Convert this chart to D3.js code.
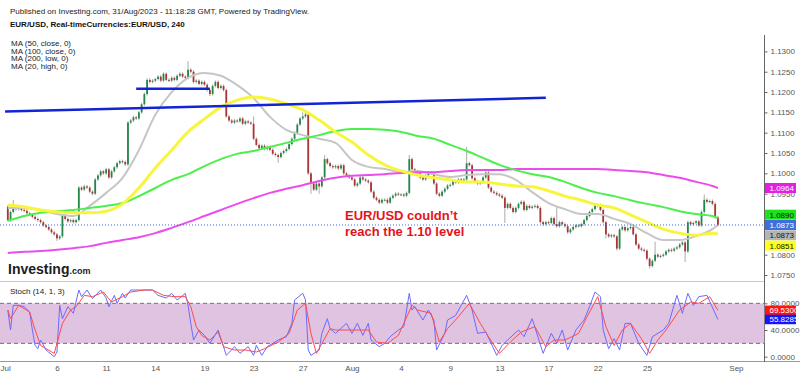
<!DOCTYPE html>
<html>
<head>
    <meta charset="utf-8">
    <script src="https://d3js.org/d3.v7.min.js"></script>
    <style>
        body { margin: 0; background: #fff; }
        text { font-family: "Liberation Sans", Arial, sans-serif; }
    </style>
</head>
<body>
    <script>
        // 4h candles, Jul 3 - Aug 31 2023, one close per bar (open = previous close)
        var firstOpen = 1.0918;
        var closes = [
            1.0885, 1.0905, 1.0918, 1.0912, 1.0915, 1.0910,
            1.0908, 1.0902, 1.0898, 1.0893, 1.0888, 1.0885,
            1.0880, 1.0872, 1.0868, 1.0862, 1.0855, 1.0850,
            1.0840, 1.0845, 1.0895, 1.0888, 1.0882, 1.0885,
            1.0880, 1.0885, 1.0965, 1.0960, 1.0968, 1.0965,
            1.0955, 1.0950, 1.0985, 1.0995, 1.1005, 1.1000,
            1.1010, 1.0990, 1.1005, 1.1015, 1.1025, 1.1030,
            1.1028, 1.1022, 1.1125, 1.1130, 1.1138, 1.1135,
            1.1150, 1.1170, 1.1195, 1.1230, 1.1225, 1.1228,
            1.1232, 1.1238, 1.1228, 1.1245, 1.1230, 1.1228,
            1.1235, 1.1230, 1.1240, 1.1245, 1.1238, 1.1235,
            1.1255, 1.1250, 1.1225, 1.1228, 1.1220, 1.1225,
            1.1218, 1.1205, 1.1195, 1.1215, 1.1225, 1.1210,
            1.1215, 1.1205, 1.1140, 1.1130, 1.1125, 1.1130,
            1.1128, 1.1135, 1.1122, 1.1128, 1.1125, 1.1122,
            1.1085, 1.1070, 1.1062, 1.1068, 1.1060, 1.1065,
            1.1058, 1.1048, 1.1045, 1.1040, 1.1050, 1.1055,
            1.1060, 1.1072, 1.1085, 1.1100, 1.1120, 1.1135,
            1.1140, 1.1145, 1.1000, 1.0975, 1.0960, 1.0975,
            1.0968, 1.0990, 1.1035, 1.1025, 1.1018, 1.1015,
            1.1018, 1.1012, 1.1020, 1.1000, 1.0995, 1.0990,
            1.0985, 1.0970, 1.0975, 1.0990, 1.0985, 1.0982,
            1.0978, 1.0955, 1.0940, 1.0935, 1.0928, 1.0935,
            1.0935, 1.0928, 1.0940, 1.0945, 1.0950, 1.0948,
            1.0948, 1.0945, 1.0952, 1.1035, 1.1010, 1.1005,
            1.1000, 1.0990, 1.0985, 1.0995, 1.1002, 1.1000,
            1.0975, 1.0950, 1.0945, 1.0955, 1.0962, 1.0970,
            1.0972, 1.0980, 1.0978, 1.0985, 1.0982, 1.0985,
            1.1025, 1.1020, 1.0988, 1.0980, 1.0975, 1.0978,
            1.0990, 1.1002, 1.0965, 1.0955, 1.0952, 1.0948,
            1.0945, 1.0940, 1.0915, 1.0925, 1.0915, 1.0905,
            1.0915, 1.0925, 1.0930, 1.0910, 1.0920, 1.0915,
            1.0918, 1.0920, 1.0915, 1.0880, 1.0875, 1.0880,
            1.0878, 1.0890, 1.0875, 1.0870, 1.0880, 1.0875,
            1.0870, 1.0855, 1.0862, 1.0868, 1.0872, 1.0870,
            1.0875, 1.0885, 1.0895, 1.0905, 1.0912, 1.0920,
            1.0922, 1.0910, 1.0880, 1.0850, 1.0845, 1.0848,
            1.0845, 1.0815, 1.0862, 1.0868, 1.0860, 1.0865,
            1.0868, 1.0850, 1.0825, 1.0815, 1.0812, 1.0810,
            1.0790, 1.0772, 1.0785, 1.0800, 1.0795, 1.0797,
            1.0800, 1.0808, 1.0812, 1.0810, 1.0815, 1.0818,
            1.0825, 1.0830, 1.0808, 1.0880, 1.0875, 1.0878,
            1.0882, 1.0872, 1.0905, 1.0935, 1.0930, 1.0932,
            1.0925, 1.0892, 1.0873
        ];
        // long shadows: [bar, high, low]
        var wicks = [
            [2, 1.0935, null], [18, null, 1.0834], [66, 1.1276, null], [74, null, 1.1190],
            [90, 1.1140, null], [99, null, 1.1026], [108, 1.1150, null], [111, null, 1.0950],
            [114, null, 1.0950], [116, 1.1045, null], [147, 1.1045, null], [168, 1.1065, null],
            [182, null, 1.0878], [201, 1.0920, null], [219, null, 1.0840], [223, null, 1.0810],
            [235, null, 1.0766], [237, 1.0832, null], [248, null, 1.0782], [255, 1.0948, null]
        ];

        // moving averages read at the start of each day, last value at the final bar
        var ma20High = [1.0915, 1.0915, 1.0910, 1.0900, 1.0895, 1.0920, 1.0952, 1.0989, 1.1057, 1.1144,
            1.1200, 1.1235, 1.1247, 1.1240, 1.1217, 1.1185, 1.1139, 1.1107, 1.1094, 1.1085,
            1.1075, 1.1033, 1.1016, 1.1011, 1.1003, 1.1006, 1.0998, 1.0991, 1.0996, 1.0998,
            1.0998, 1.0984, 1.0954, 1.0927, 1.0912, 1.0900, 1.0900, 1.0888, 1.0875, 1.0853,
            1.0836, 1.0836, 1.0846, 1.0863, 1.0873];
        var ma50Close = [1.0922, 1.0917, 1.0910, 1.0905, 1.0903, 1.0903, 1.0907, 1.0925, 1.0964, 1.1013,
            1.1057, 1.1102, 1.1134, 1.1163, 1.1180, 1.1188, 1.1183, 1.1171, 1.1156, 1.1131,
            1.1102, 1.1077, 1.1045, 1.1021, 1.1006, 1.0996, 1.0989, 1.0984, 1.0979, 1.0979,
            1.0974, 1.0969, 1.0967, 1.0957, 1.0944, 1.0934, 1.0922, 1.0915, 1.0898, 1.0880,
            1.0863, 1.0853, 1.0848, 1.0853, 1.0851];
        var ma100Close = [1.0883, 1.0895, 1.0903, 1.0907, 1.0910, 1.0915, 1.0920, 1.0927, 1.0944, 1.0964,
            1.0984, 1.0998, 1.1018, 1.1035, 1.1048, 1.1055, 1.1065, 1.1075, 1.1085, 1.1094,
            1.1104, 1.1109, 1.1109, 1.1107, 1.1102, 1.1092, 1.1085, 1.1070, 1.1055, 1.1038,
            1.1021, 1.1008, 1.0998, 1.0991, 1.0979, 1.0964, 1.0952, 1.0944, 1.0934, 1.0925,
            1.0917, 1.0907, 1.0900, 1.0895, 1.0890];
        var ma200Low = [1.0804, 1.0807, 1.0809, 1.0812, 1.0816, 1.0821, 1.0829, 1.0836, 1.0843, 1.0853,
            1.0866, 1.0880, 1.0895, 1.0910, 1.0925, 1.0939, 1.0952, 1.0962, 1.0971, 1.0981,
            1.0989, 1.0994, 1.0996, 1.0998, 1.1001, 1.1003, 1.1003, 1.1006, 1.1008, 1.1008,
            1.1008, 1.1011, 1.1011, 1.1011, 1.1011, 1.1011, 1.1011, 1.1008, 1.1006, 1.1003,
            1.0996, 1.0989, 1.0979, 1.0969, 1.0964];
        var maAt = d3.range(44).map(function (d) { return d * 6; }).concat([260]);

        // Stoch (14, 1, 3): %K (blue) and %D (red), points at bar index
        var stochKAt = [0, 1, 2, 4, 6, 8, 9, 10, 11, 12, 14, 17, 18, 19, 20, 22, 24, 26, 27, 29, 31, 34, 36, 37, 39, 40, 42, 43, 45, 53,
            55, 58, 60, 62, 65, 66, 67, 68, 70, 72, 74, 77, 79, 80, 83, 85, 88, 90, 91, 93, 95, 99, 102, 104, 105, 108, 109, 110, 111, 114,
            115, 117, 118, 120, 124, 126, 128, 130, 132, 133, 136, 138, 140, 143, 145, 147, 148, 149, 152, 154, 156, 157, 160, 161, 164, 168, 170, 172, 175, 177,
            179, 181, 183, 187, 189, 192, 196, 199, 201, 203, 205, 208, 211, 213, 215, 217, 218, 220, 222, 224, 226, 228, 231, 234, 236, 240, 242, 245, 247, 249,
            251, 253, 256, 260];
        var stochK = [70, 40, 77, 77, 75, 67, 40, 17, 12, 25, 10, 0, 7, 77, 57, 75, 65, 100, 90, 100, 87, 100, 88, 75, 92, 80, 95, 88, 100, 100,
            92, 88, 95, 85, 95, 77, 50, 25, 40, 32, 20, 40, 15, 2, 15, 5, 15, 2, 17, 2, 15, 25, 30, 50, 85, 95, 85, 10, 2, 10,
            35, 57, 42, 35, 50, 35, 50, 32, 50, 25, 15, 20, 30, 40, 45, 95, 70, 75, 55, 70, 55, 10, 35, 55, 62, 92, 70, 35, 37, 20,
            2, 17, 25, 40, 30, 57, 5, 35, 20, 40, 10, 40, 55, 75, 97, 90, 40, 12, 27, 10, 50, 50, 20, 2, 30, 40, 50, 92, 65, 95,
            77, 90, 92, 55.8285];
        var stochDAt = [0, 1, 4, 8, 10, 12, 14, 17, 20, 23, 25, 28, 31, 35, 38, 42, 45, 50, 53, 57, 61, 65, 67, 69, 71, 74, 77, 79, 83, 87,
            91, 94, 99, 103, 106, 109, 111, 113, 115, 118, 120, 126, 132, 135, 139, 143, 148, 150, 155, 158, 161, 165, 169, 173, 176, 180, 184, 188, 193, 197,
            200, 204, 209, 213, 216, 219, 222, 225, 228, 232, 235, 238, 241, 246, 250, 253, 257, 260];
        var stochD = [70, 57, 77, 67, 40, 17, 12, 5, 50, 70, 75, 92, 90, 97, 82, 90, 97, 100, 100, 92, 90, 90, 75, 45, 32, 25, 37, 15, 10, 10,
            7, 12, 22, 35, 70, 80, 35, 5, 20, 42, 40, 40, 40, 22, 20, 32, 77, 70, 65, 22, 42, 60, 80, 50, 30, 5, 22, 37, 45, 15,
            25, 25, 35, 67, 90, 45, 17, 40, 50, 27, 5, 25, 40, 70, 82, 80, 90, 69.53];

        var dayTicks = [-1, 18, 36, 54, 72, 90, 108, 126, 144, 162, 180, 198, 216, 234, 266.6];
        var dayLabels = ['Jul', '6', '11', '14', '19', '23', '27', 'Aug', '4', '9', '13', '17', '22', '25', 'Sep'];
        var priceTicks = d3.range(0, 12).map(function (k) { return 1.075 + k * 0.005; });
        var stochTicks = [0, 40, 80];

        // hand drawn lines: [[bar, price], [bar, price]]
        var trendLines = [[[-1, 1.1152], [197, 1.1186]], [[47, 1.1208], [74, 1.1208]]];
        var lastPrice = 1.0873;
        var maNames = ['MA (50, close, 0)', 'MA (100, close, 0)', 'MA (200, low, 0)', 'MA (20, high, 0)'];

        var axisX = 764.5;
        var svg = d3.select('body').append('svg').attr('width', 800).attr('height', 376);

        var x = d3.scaleLinear().domain([0, 260]).range([7.8, 717.9]);
        var y = d3.scaleLinear().domain([1.075, 1.13]).range([275, 51.4]);
        var ys = d3.scaleLinear().domain([0, 100]).range([356.7, 290]);

        var defs = svg.append('defs');
        defs.append('clipPath').attr('id', 'mainClip').append('rect')
            .attrs ? null : null;
        defs.select('#mainClip').append('rect').attr('x', 0).attr('y', 35).attr('width', axisX).attr('height', 246);
        defs.append('clipPath').attr('id', 'stochClip').append('rect')
            .attr('x', 0).attr('y', 282).attr('width', axisX).attr('height', 79);

        // header
        svg.append('text').attr('x', 10).attr('y', 14).attr('font-size', 8).attr('fill', '#222')
            .text('Published on Investing.com, 31/Aug/2023 - 11:18:28 GMT, Powered by TradingView.');
        svg.append('text').attr('x', 10).attr('y', 27).attr('font-size', 8).attr('font-weight', 'bold').attr('fill', '#111')
            .text('EUR/USD, Real-timeCurrencies:EUR/USD, 240');
        svg.selectAll('.leg').data(maNames).enter().append('text')
            .attr('x', 11).attr('y', function (d, i) { return 46 + i * 7.6; })
            .attr('font-size', 8).attr('fill', '#222').text(function (d) { return d; });

        // panels
        svg.append('line').attr('x1', 0).attr('x2', axisX).attr('y1', 281.5).attr('y2', 281.5).attr('stroke', '#c8c8c8');
        svg.append('line').attr('x1', 0).attr('x2', 800).attr('y1', 361.5).attr('y2', 361.5).attr('stroke', '#999');
        svg.append('line').attr('x1', axisX).attr('x2', axisX).attr('y1', 35).attr('y2', 362).attr('stroke', '#666');

        var main = svg.append('g').attr('clip-path', 'url(#mainClip)');

        // candles
        var candles = closes.map(function (c, i) {
            return { i: i, o: i ? closes[i - 1] : firstOpen, c: c, h: null, l: null };
        });
        wicks.forEach(function (w) { candles[w[0]].h = w[1]; candles[w[0]].l = w[2]; });

        var cg = main.append('g');
        cg.selectAll('line').data(candles).enter().append('line')
            .attr('x1', function (d) { return x(d.i); })
            .attr('x2', function (d) { return x(d.i); })
            .attr('y1', function (d) { return d.h != null ? y(d.h) : y(Math.max(d.o, d.c)) - 1.5; })
            .attr('y2', function (d) { return d.l != null ? y(d.l) : y(Math.min(d.o, d.c)) + 1.5; })
            .attr('stroke', '#8f9a92').attr('stroke-width', 0.8);
        cg.selectAll('rect').data(candles).enter().append('rect')
            .attr('x', function (d) { return x(d.i) - 0.9; })
            .attr('width', 1.8)
            .attr('y', function (d) { return y(Math.max(d.o, d.c)); })
            .attr('height', function (d) { return Math.max(1, Math.abs(y(d.o) - y(d.c))); })
            .attr('fill', function (d) { return d.c >= d.o ? '#23874a' : '#ad3434'; });

        // moving averages
        function maLine(vals, color, w) {
            var line = d3.line()
                .x(function (d, i) { return x(maAt[i]); })
                .y(function (d) { return y(d); })
                .curve(d3.curveMonotoneX);
            main.append('path').attr('d', line(vals)).attr('fill', 'none')
                .attr('stroke', color).attr('stroke-width', w);
        }
        maLine(ma20High, '#c6c6c6', 2);
        maLine(ma200Low, '#ec4cec', 2);
        maLine(ma100Close, '#4cef4c', 2);
        maLine(ma50Close, '#f7f53c', 3);

        // last price dotted line
        main.append('line').attr('x1', 0).attr('x2', axisX).attr('y1', y(lastPrice)).attr('y2', y(lastPrice))
            .attr('stroke', '#3c68e8').attr('stroke-dasharray', '1,2');

        // trend lines
        main.selectAll('.trend').data(trendLines).enter().append('line')
            .attr('x1', function (d) { return x(d[0][0]); }).attr('y1', function (d) { return y(d[0][1]); })
            .attr('x2', function (d) { return x(d[1][0]); }).attr('y2', function (d) { return y(d[1][1]); })
            .attr('stroke', '#1224d6').attr('stroke-width', 2.5);

        // annotation
        var note = svg.append('text').attr('font-size', 13).attr('font-weight', 'bold').attr('fill', '#e5121d');
        note.append('tspan').attr('x', 345).attr('y', 220).text('EUR/USD couldn\u2019t');
        note.append('tspan').attr('x', 345).attr('y', 236).text('reach the 1.10 level');

        // logo
        var logo = svg.append('text').attr('x', 8).attr('y', 274).attr('fill', '#1d1d1d').attr('font-weight', 'bold');
        logo.append('tspan').attr('font-size', 14).text('Investing');
        logo.append('tspan').attr('font-size', 9).text('.com');

        // price axis
        var pAxis = svg.append('g').attr('transform', 'translate(' + axisX + ',0)')
            .call(d3.axisRight(y).tickValues(priceTicks).tickSize(3).tickPadding(3).tickFormat(d3.format('.4f')));
        pAxis.select('.domain').remove();
        pAxis.selectAll('line').attr('stroke', '#666');
        pAxis.selectAll('text').attr('font-size', 8).attr('fill', '#555').style('font-family', '"Liberation Sans", Arial, sans-serif');

        // stoch panel
        var st = svg.append('g').attr('clip-path', 'url(#stochClip)');
        st.append('rect').attr('x', 0).attr('width', axisX).attr('y', ys(80)).attr('height', ys(20) - ys(80)).attr('fill', '#e0c3e1');
        st.selectAll('.lvl').data([80, 20]).enter().append('line')
            .attr('x1', 0).attr('x2', axisX).attr('y1', function (d) { return ys(d); }).attr('y2', function (d) { return ys(d); })
            .attr('stroke', '#7d6a7d').attr('stroke-dasharray', '4,3');
        var kLine = d3.line().x(function (d, i) { return x(stochKAt[i]); }).y(function (d) { return ys(d); });
        var dLine = d3.line().x(function (d, i) { return x(stochDAt[i]); }).y(function (d) { return ys(d); });
        st.append('path').attr('d', kLine(stochK)).attr('fill', 'none').attr('stroke', '#6a6aff').attr('stroke-width', 1);
        st.append('path').attr('d', dLine(stochD)).attr('fill', 'none').attr('stroke', '#ff4a4a').attr('stroke-width', 1);
        svg.append('text').attr('x', 10).attr('y', 294).attr('font-size', 8).attr('fill', '#222').text('Stoch (14, 1, 3)');

        var sAxis = svg.append('g').attr('transform', 'translate(' + axisX + ',0)')
            .call(d3.axisRight(ys).tickValues(stochTicks).tickSize(3).tickPadding(3).tickFormat(d3.format('.4f')));
        sAxis.select('.domain').remove();
        sAxis.selectAll('line').attr('stroke', '#666');
        sAxis.selectAll('text').attr('font-size', 8).attr('fill', '#555').style('font-family', '"Liberation Sans", Arial, sans-serif');

        // time axis
        var tAxis = svg.append('g').attr('transform', 'translate(0,361.5)')
            .call(d3.axisBottom(x).tickValues(dayTicks).tickSize(0).tickPadding(4)
                .tickFormat(function (d, i) { return dayLabels[i]; }));
        tAxis.select('.domain').remove();
        tAxis.selectAll('text').attr('font-size', 8).attr('fill', '#555').style('font-family', '"Liberation Sans", Arial, sans-serif');

        // value tags on the right
        function tag(yc, txt, bg, fg, h) {
            svg.append('rect').attr('x', axisX + 0.5).attr('y', yc - h / 2).attr('width', 31).attr('height', h).attr('fill', bg);
            svg.append('text').attr('x', axisX + 5).attr('y', yc + 3).attr('font-size', 8).attr('fill', fg).text(txt);
        }
        var tags = [
            { v: ma200Low[44], bg: '#e41ee4', fg: '#fff' },
            { v: ma100Close[44], bg: '#1ee21e', fg: '#111' },
            { v: lastPrice, bg: '#3f6fdc', fg: '#fff', anchor: true },
            { v: ma20High[44], bg: '#b4b4b4', fg: '#111' },
            { v: ma50Close[44], bg: '#ffff1e', fg: '#111' }
        ];
        var pos = tags.map(function (t) { return y(t.v); });
        var a = tags.findIndex(function (t) { return t.anchor; });
        for (var k = a - 1; k >= 0; k--) pos[k] = Math.min(pos[k], pos[k + 1] - 10.3);
        for (var k2 = a + 1; k2 < tags.length; k2++) pos[k2] = Math.max(pos[k2], pos[k2 - 1] + 10.3);
        tags.forEach(function (t, i) { tag(pos[i], d3.format('.4f')(t.v), t.bg, t.fg, 10); });

        tag(ys(stochD[stochD.length - 1]), d3.format('.4f')(stochD[stochD.length - 1]), '#ff1414', '#fff', 9.5);
        tag(ys(stochK[stochK.length - 1]), d3.format('.4f')(stochK[stochK.length - 1]), '#1414ff', '#fff', 9.5);
    </script>
</body>
</html>
